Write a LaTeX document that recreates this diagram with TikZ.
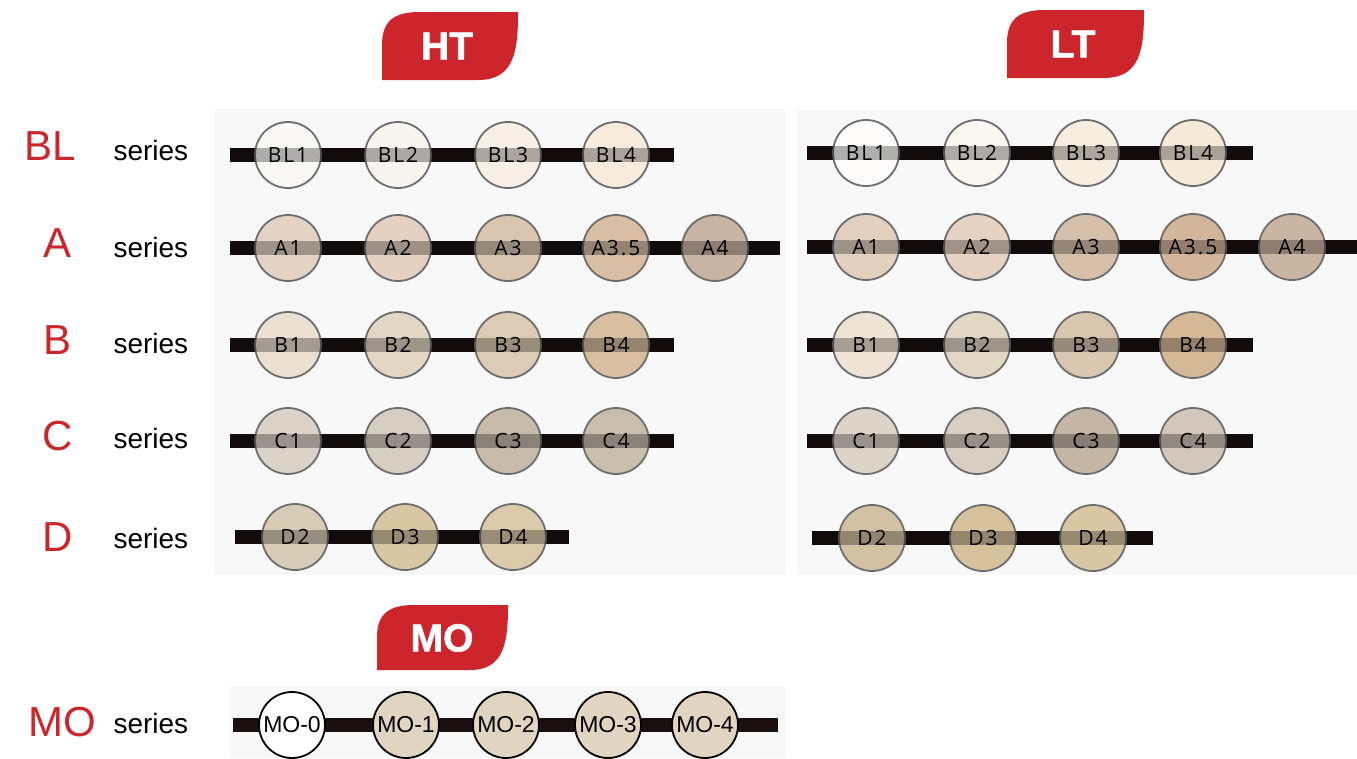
\documentclass[tikz,border=0pt]{standalone}
\usepackage{fontspec}
\setmainfont{Liberation Sans}
\newfontfamily\shadefont[LetterSpace=9]{Open Sans}
\newfontfamily\heavyfont[FakeBold=1.5]{Liberation Sans Bold}
\definecolor{tabred}{HTML}{CC252B}
\definecolor{barblack}{HTML}{1A1010}
\definecolor{ringgray}{HTML}{6E6E6E}
\definecolor{panelgray}{HTML}{F8F8F8}
\tikzset{
  tab/.style={fill=tabred},
  tablabel/.style={text=white,font=\heavyfont\fontsize{39}{39}\selectfont},
  letter/.style={text=tabred,font=\fontsize{42}{42}\selectfont},
  word/.style={anchor=west,font=\fontsize{28}{28}\selectfont},
  bar/.style={draw=barblack,line width=14pt},
  band/.style={draw=black,line width=14pt,opacity=0.3},
  shade/.style={circle,draw=ringgray,line width=1.8pt,minimum size=66pt,inner sep=0pt,
    font=\shadefont\fontsize{21}{21}\selectfont},
  mo/.style={shade,draw=black,font=\fontsize{23}{23}\selectfont}
}
\begin{document}
\begin{tikzpicture}[x=1pt,y=-1pt]
  \useasboundingbox (0,0) rectangle (1357,758);
  % panels
  \fill[panelgray] (215,108) rectangle (785,575);
  \fill[panelgray] (797,110) rectangle (1357,575);
  \fill[panelgray] (230,686) rectangle (785,758);

  % tabs
  \fill[tab] (382,80) -- (382,45) .. controls (382,20) and (395,12) .. (420,12)
    -- (518,12) .. controls (518,50) and (515,80) .. (478,80) -- cycle;
  \node[tablabel] (ht) at (447,46) {HT};
  \fill[tab] (1007,78) -- (1007,43) .. controls (1007,18) and (1020,10) .. (1045,10)
    -- (1144,10) .. controls (1144,48) and (1141,78) .. (1104,78) -- cycle;
  \node[tablabel] (lt) at (1073,44) {LT};
  \fill[tab] (377,670) -- (377,637) .. controls (377,613) and (390,605) .. (414,605)
    -- (508,605) .. controls (508,641) and (505,670) .. (470,670) -- cycle;
  \node[tablabel] (mo) at (442,638) {MO};

  % row names
  \node[letter] (BL) at (50,146) {BL};
  \node[letter] (A) at (58,243) {A};
  \node[letter] (B) at (58,340) {B};
  \node[letter] (C) at (58,436) {C};
  \node[letter] (D) at (58,537) {D};
  \node[letter] (MO) at (62,722) {MO};
  \foreach \y/\n in {150/BL,247/A,343/B,438/C,538/D,723/MO}
    \node[word] (s-\n) at (110,\y) {series};

  % HT
  \foreach \y/\s/\e/\n in {155/230/674/BL,248/230/780/A,345/230/674/B,441/230/674/C,537/235/569/D}{
    \coordinate (ht-\n-s) at (\s,\y);
    \coordinate (ht-\n-e) at (\e,\y);
    \draw[bar] (ht-\n-s) -- (ht-\n-e);
  }
  \foreach \x/\t/\c [count=\i] in {288/BL1/FAF8F5,398/BL2/F8F4EF,508/BL3/F8EFE6,616/BL4/F7EBDD}{
    \definecolor{tint}{HTML}{\c}
    \node[shade,fill=tint] (ht-BL-\i) at (\x,155) {\t};
  }
  \foreach \x/\t/\c [count=\i] in {288/A1/E3D3C4,398/A2/E4D1C1,508/A3/D9C5B0,616/A3.5/D8BEA4,715/A4/C9B3A2}{
    \definecolor{tint}{HTML}{\c}
    \node[shade,fill=tint] (ht-A-\i) at (\x,248) {\t};
  }
  \foreach \x/\t/\c [count=\i] in {288/B1/EBE0D2,398/B2/E3D6C5,508/B3/DCCBB5,616/B4/D7BF9F}{
    \definecolor{tint}{HTML}{\c}
    \node[shade,fill=tint] (ht-B-\i) at (\x,345) {\t};
  }
  \foreach \x/\t/\c [count=\i] in {288/C1/DCD3C8,398/C2/D7CEC2,508/C3/C8BBAB,616/C4/C9BDAD}{
    \definecolor{tint}{HTML}{\c}
    \node[shade,fill=tint] (ht-C-\i) at (\x,441) {\t};
  }
  \foreach \x/\t/\c [count=\i] in {295/D2/D8CCB6,405/D3/D9C7A4,513/D4/DCCBAA}{
    \definecolor{tint}{HTML}{\c}
    \node[shade,fill=tint] (ht-D-\i) at (\x,537) {\t};
  }
  \foreach \n in {BL,A,B,C,D}
    \draw[band] (ht-\n-s) -- (ht-\n-e);

  % LT
  \foreach \y/\s/\e/\n in {153/807/1253/BL,247/807/1357/A,345/807/1253/B,441/807/1253/C,538/812/1153/D}{
    \coordinate (lt-\n-s) at (\s,\y);
    \coordinate (lt-\n-e) at (\e,\y);
    \draw[bar] (lt-\n-s) -- (lt-\n-e);
  }
  \foreach \x/\t/\c [count=\i] in {866/BL1/FDFCFA,977/BL2/FAF6F0,1086/BL3/F8EEDF,1193/BL4/F6E9D8}{
    \definecolor{tint}{HTML}{\c}
    \node[shade,fill=tint] (lt-BL-\i) at (\x,153) {\t};
  }
  \foreach \x/\t/\c [count=\i] in {866/A1/E3D0BF,977/A2/E7D3C3,1086/A3/D6C0AA,1193/A3.5/D2B59A,1292/A4/CAB5A3}{
    \definecolor{tint}{HTML}{\c}
    \node[shade,fill=tint] (lt-A-\i) at (\x,247) {\t};
  }
  \foreach \x/\t/\c [count=\i] in {866/B1/EEE3D4,977/B2/E2D6C5,1086/B3/D9C7B0,1193/B4/D5B997}{
    \definecolor{tint}{HTML}{\c}
    \node[shade,fill=tint] (lt-B-\i) at (\x,345) {\t};
  }
  \foreach \x/\t/\c [count=\i] in {866/C1/DDD4C8,977/C2/D8CFC2,1086/C3/C4B5A4,1193/C4/D2C7BA}{
    \definecolor{tint}{HTML}{\c}
    \node[shade,fill=tint] (lt-C-\i) at (\x,441) {\t};
  }
  \foreach \x/\t/\c [count=\i] in {872/D2/D3C1A3,983/D3/D5C19B,1093/D4/D9C7A3}{
    \definecolor{tint}{HTML}{\c}
    \node[shade,fill=tint] (lt-D-\i) at (\x,538) {\t};
  }
  \foreach \n in {BL,A,B,C,D}
    \draw[band] (lt-\n-s) -- (lt-\n-e);

  % MO
  \coordinate (mo-s) at (233,725);
  \coordinate (mo-e) at (778,725);
  \draw[bar] (mo-s) -- (mo-e);
  \foreach \x/\t/\c [count=\i] in {292/MO-0/FFFFFF,406/MO-1/E1D4C1,506/MO-2/E1D4C1,608/MO-3/E1D4C1,705/MO-4/E1D4C1}{
    \definecolor{tint}{HTML}{\c}
    \node[mo,fill=tint] (mo-\i) at (\x,725) {\t};
  }
\end{tikzpicture}
\end{document}
